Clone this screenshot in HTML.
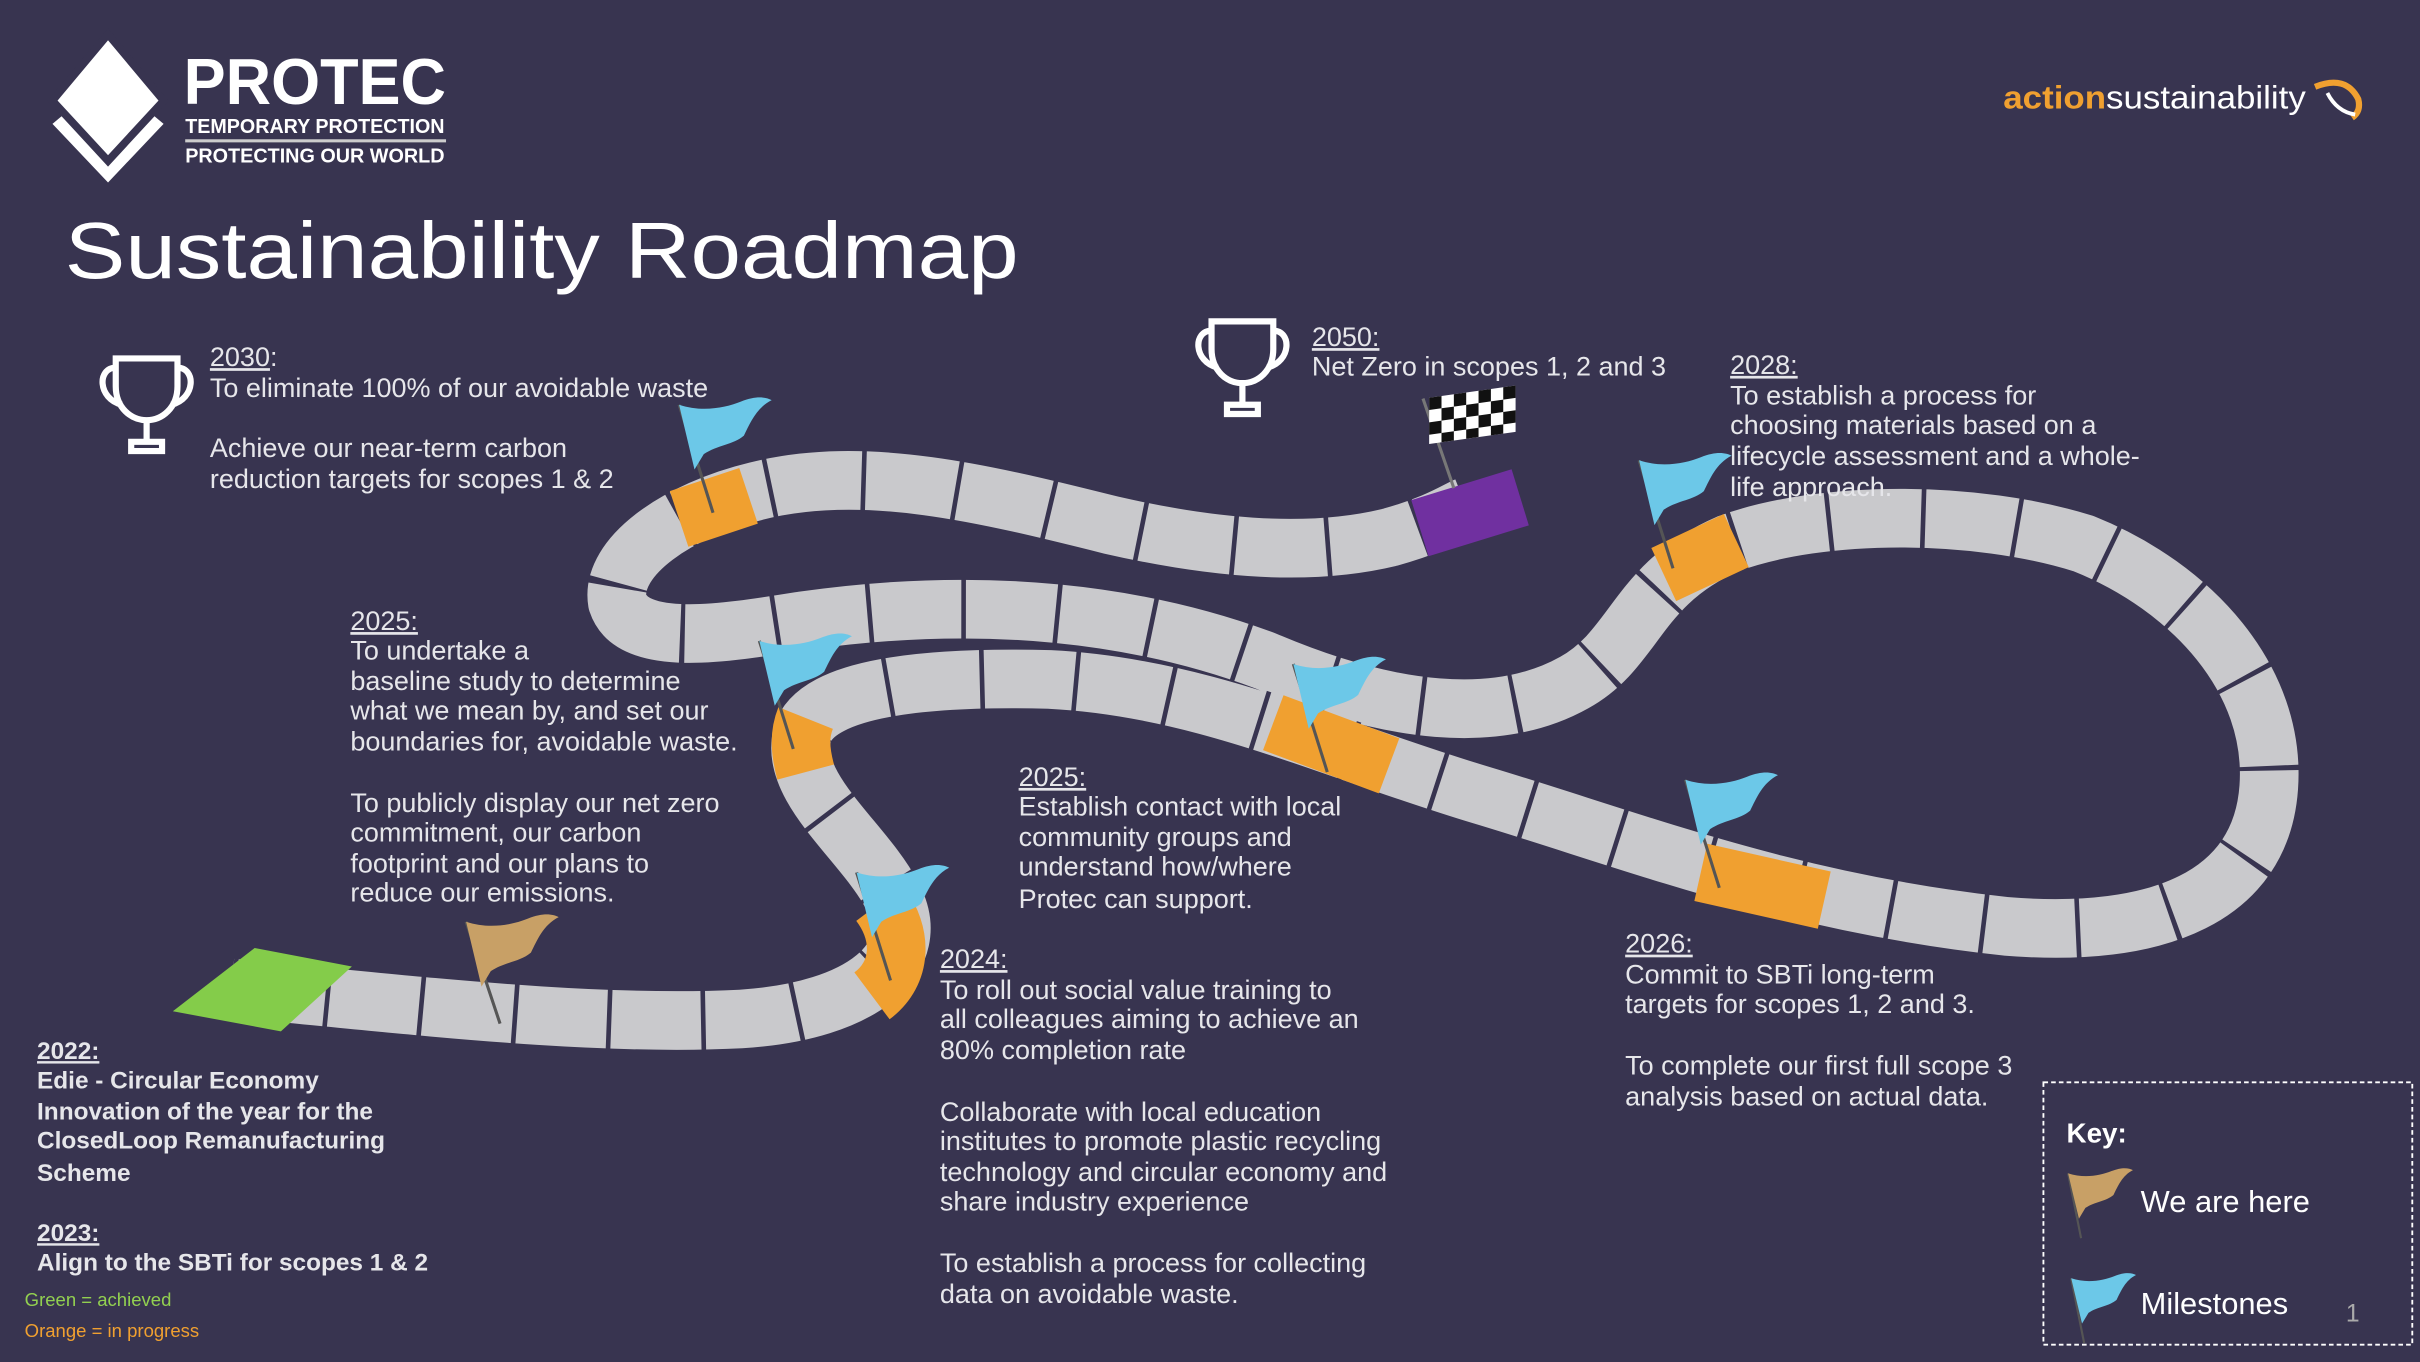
<!DOCTYPE html>
<html><head><meta charset="utf-8"><style>
html,body{margin:0;padding:0;background:#383450;}
svg{display:block}
text{font-family:"Liberation Sans",sans-serif;fill:#e6e6ea}
.b{font-size:17.5px}
.k{font-size:15.8px;font-weight:bold}
.u{text-decoration:underline}
</style></head><body>
<svg width="2420" height="1362" viewBox="0 0 1568 882" xmlns="http://www.w3.org/2000/svg">
<defs>
<path id="road" d="M150,640 C260,650 380,665 480,660 C560,655 600,620 578,580 C560,545 510,510 520,475 C530,445 600,438 680,440 C780,445 860,485 960,515 C1060,545 1160,585 1300,600 C1400,608 1465,580 1470,510 C1475,440 1420,380 1350,352 C1280,330 1180,330 1120,352 C1060,378 1060,420 1020,442 C970,470 900,462 820,428 C740,398 640,385 520,402 C470,410 410,420 400,390 C395,360 440,330 490,318 C560,300 640,320 720,340 C790,356 850,360 900,348 C930,340 945,330 950,328"/>
<g id="fl">
<line x1="0" y1="0" x2="22" y2="70" stroke="#555" stroke-width="2"/>
<path d="M0,0 C15,5 30,2 40,-2 C50,-6 56,-5 60,-3 C50,2 46,12 42,20 C35,26 25,26 16,32 L10,42 Z" fill="#6cc8e8"/>
</g>
<g id="tr" fill="none" stroke="#fff" stroke-width="4">
<path d="M-20,0 H20 V18 C20,32 10,40 0,40 C-10,40 -20,32 -20,18 Z"/>
<path d="M-20,6 C-32,6 -32,26 -16,30 M20,6 C32,6 32,26 16,30"/>
<path d="M0,40 V52 M-10,54 H10 V60 H-10 Z"/>
</g>
</defs>
<rect width="1568" height="882" fill="#383450"/>
<!-- logo -->
<polygon points="34,80 46,70 70,96 94,70 106,80 70,118" fill="#fff"/>
<polygon points="70,22 106,65 70,104 34,65" fill="#fff" stroke="#383450" stroke-width="5"/>
<text x="119" y="67" style="font-size:42px;font-weight:bold;fill:#fff" textLength="170" lengthAdjust="spacingAndGlyphs">PROTEC</text>
<text x="120" y="86" style="font-size:13px;font-weight:bold;fill:#fff" textLength="168" lengthAdjust="spacingAndGlyphs">TEMPORARY PROTECTION</text>
<rect x="120" y="90" width="169" height="2" fill="#ccc"/>
<text x="120" y="105" style="font-size:13px;font-weight:bold;fill:#fff" textLength="168" lengthAdjust="spacingAndGlyphs">PROTECTING OUR WORLD</text>
<text x="1298" y="70" style="font-size:21px;fill:#f0a030;font-weight:bold" textLength="196" lengthAdjust="spacingAndGlyphs">action<tspan style="fill:#fff;font-weight:normal">sustainability</tspan></text>
<path d="M1500,56 q20,-8 28,8 q2,8 -4,12" stroke="#f0a030" stroke-width="4" fill="none"/>
<path d="M1508,60 q6,12 18,14" stroke="#fff" stroke-width="2.5" fill="none"/>
<text x="42" y="180" style="font-size:52px;fill:#fff" textLength="618" lengthAdjust="spacingAndGlyphs">Sustainability Roadmap</text>

<!-- road -->
<g fill="none" stroke-linejoin="round">
<use href="#road" stroke="#c9c9cc" stroke-width="38"/>
<use href="#road" stroke="#383450" stroke-width="40" stroke-dasharray="3 58"/>
</g>
<!-- colored tiles -->
<g stroke-width="38" fill="none">
<polygon points="112,655 165,614 228,626 182,668" fill="#84cc4a" stroke="none"/>
<path d="M440,336 L485,321" stroke="#f0a030"/>
<path d="M522,500 C518,485 518,475 522,465" stroke="#f0a030"/>
<path d="M570,585 C585,605 585,630 565,645" stroke="#f0a030"/>
<path d="M825,468 L900,496" stroke="#f0a030"/>
<path d="M1102,565 L1182,583" stroke="#f0a030"/>
<path d="M1078,372 L1125,350" stroke="#f0a030"/>
<path d="M920,342 L985,322" stroke="#7030a0"/>
</g>

<!-- flags -->
<use href="#fl" x="440" y="262"/>
<use href="#fl" x="492" y="415"/>
<use href="#fl" x="555" y="565"/>
<use href="#fl" x="838" y="430"/>
<use href="#fl" x="1092" y="505"/>
<use href="#fl" x="1062" y="298"/>
<g transform="translate(302,597)">
<line x1="0" y1="0" x2="22" y2="66" stroke="#555" stroke-width="2"/>
<path d="M0,0 C15,5 30,2 40,-2 C50,-6 56,-5 60,-3 C50,2 46,12 42,20 C35,26 25,26 16,32 L10,42 Z" fill="#c8a066"/>
</g>
<g transform="translate(922,258)">
<line x1="0" y1="0" x2="20" y2="58" stroke="#777" stroke-width="2"/>
<rect x="4" y="0" width="56" height="30" fill="#fff" transform="skewY(-8)"/>
<g fill="#111" transform="skewY(-8)">
<rect x="4" y="0" width="8" height="8"/><rect x="20" y="0" width="8" height="8"/><rect x="36" y="0" width="8" height="8"/><rect x="52" y="0" width="8" height="8"/>
<rect x="12" y="8" width="8" height="8"/><rect x="28" y="8" width="8" height="8"/><rect x="44" y="8" width="8" height="8"/>
<rect x="4" y="16" width="8" height="8"/><rect x="20" y="16" width="8" height="8"/><rect x="36" y="16" width="8" height="8"/><rect x="52" y="16" width="8" height="8"/>
<rect x="12" y="24" width="8" height="6"/><rect x="28" y="24" width="8" height="6"/><rect x="44" y="24" width="8" height="6"/>
</g></g>

<!-- trophies -->
<use href="#tr" x="95" y="232"/>
<use href="#tr" x="805" y="208"/>

<!-- texts -->
<text class="b" x="136" y="237"><tspan class="u">2030</tspan>:</text>
<text class="b" x="136" y="257">To eliminate 100% of our avoidable waste</text>
<text class="b" x="136" y="296">Achieve our near-term carbon</text>
<text class="b" x="136" y="316">reduction targets for scopes 1 &amp; 2</text>

<text class="b" x="850" y="224"><tspan class="u">2050:</tspan></text>
<text class="b" x="850" y="243">Net Zero in scopes 1, 2 and 3</text>

<text class="b" x="1121" y="242"><tspan class="u">2028:</tspan></text>
<text class="b" x="1121" y="262">To establish a process for</text>
<text class="b" x="1121" y="281">choosing materials based on a</text>
<text class="b" x="1121" y="301">lifecycle assessment and a whole-</text>
<text class="b" x="1121" y="321">life approach.</text>

<text class="b" x="227" y="408"><tspan class="u">2025:</tspan></text>
<text class="b" x="227" y="427">To undertake a</text>
<text class="b" x="227" y="447">baseline study to determine</text>
<text class="b" x="227" y="466">what we mean by, and set our</text>
<text class="b" x="227" y="486">boundaries for, avoidable waste.</text>
<text class="b" x="227" y="526">To publicly display our net zero</text>
<text class="b" x="227" y="545">commitment, our carbon</text>
<text class="b" x="227" y="565">footprint and our plans to</text>
<text class="b" x="227" y="584">reduce our emissions.</text>

<text class="b" x="660" y="509"><tspan class="u">2025:</tspan></text>
<text class="b" x="660" y="528">Establish contact with local</text>
<text class="b" x="660" y="548">community groups and</text>
<text class="b" x="660" y="567">understand how/where</text>
<text class="b" x="660" y="588">Protec can support.</text>

<text class="b" x="609" y="627"><tspan class="u">2024:</tspan></text>
<text class="b" x="609" y="647">To roll out social value training to</text>
<text class="b" x="609" y="666">all colleagues aiming to achieve an</text>
<text class="b" x="609" y="686">80% completion rate</text>
<text class="b" x="609" y="726">Collaborate with local education</text>
<text class="b" x="609" y="745">institutes to promote plastic recycling</text>
<text class="b" x="609" y="765">technology and circular economy and</text>
<text class="b" x="609" y="784">share industry experience</text>
<text class="b" x="609" y="824">To establish a process for collecting</text>
<text class="b" x="609" y="844">data on avoidable waste.</text>

<text class="b" x="1053" y="617"><tspan class="u">2026:</tspan></text>
<text class="b" x="1053" y="637">Commit to SBTi long-term</text>
<text class="b" x="1053" y="656">targets for scopes 1, 2 and 3.</text>
<text class="b" x="1053" y="696"> To complete our first full scope 3</text>
<text class="b" x="1053" y="716">analysis based on actual data.</text>

<text class="k" x="24" y="686"><tspan class="u">2022:</tspan></text>
<text class="k" x="24" y="705">Edie - Circular Economy</text>
<text class="k" x="24" y="725">Innovation of the year for the</text>
<text class="k" x="24" y="744">ClosedLoop Remanufacturing</text>
<text class="k" x="24" y="765">Scheme</text>
<text class="k" x="24" y="804"><tspan class="u">2023:</tspan></text>
<text class="k" x="24" y="823">Align to the SBTi for scopes 1 &amp; 2</text>
<text x="16" y="846" style="font-size:12px;fill:#92d050">Green = achieved</text>
<text x="16" y="866" style="font-size:12px;fill:#f0a030">Orange = in progress</text>

<!-- key -->
<rect x="1324" y="701" width="239" height="170" fill="none" stroke="#fff" stroke-width="1.2" stroke-dasharray="3 2"/>
<text x="1339" y="740" style="font-size:18px;font-weight:bold;fill:#fff">Key:</text>
<g transform="translate(1340,760) scale(0.7)">
<line x1="0" y1="0" x2="12" y2="60" stroke="#555" stroke-width="2"/>
<path d="M0,0 C15,5 30,2 40,-2 C50,-6 56,-5 60,-3 C50,2 46,12 42,20 C35,26 25,26 16,32 L10,42 Z" fill="#c8a066"/>
</g>
<text x="1387" y="785" style="font-size:20px;fill:#fff">We are here</text>
<g transform="translate(1342,828) scale(0.7)">
<line x1="0" y1="0" x2="12" y2="60" stroke="#555" stroke-width="2"/>
<path d="M0,0 C15,5 30,2 40,-2 C50,-6 56,-5 60,-3 C50,2 46,12 42,20 C35,26 25,26 16,32 L10,42 Z" fill="#6cc8e8"/>
</g>
<text x="1387" y="851" style="font-size:20px;fill:#fff">Milestones</text>
<text x="1520" y="856" style="font-size:16px;fill:#aaa">1</text>
</svg>
</body></html>
